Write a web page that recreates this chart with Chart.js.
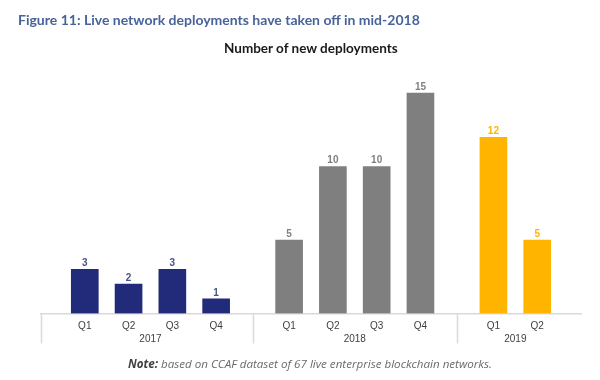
<!DOCTYPE html>
<html><head><meta charset="utf-8">
<script src="https://cdn.jsdelivr.net/npm/chart.js@4.4.1/dist/chart.umd.min.js"></script>
<style>
html,body{margin:0;padding:0;background:#fff;}
#wrap{position:relative;width:600px;height:380px;overflow:hidden;background:#fff;}
#c{position:absolute;left:0;top:0;}
.t{position:absolute;white-space:nowrap;line-height:1;}
#title{left:18px;top:11px;font:700 14px Lato, sans-serif;color:#48639a;}
#sub{left:224px;top:40px;font:700 13.5px Lato, sans-serif;color:#1a1a1a;}
#note{left:128px;top:356px;font:italic 400 11.6px "Open Sans", sans-serif;color:#6b6b6b;}
#note b{color:#404040;font-weight:700;}
</style></head>
<body>
<div id="wrap">
<canvas id="c" width="600" height="380"></canvas>
<div class="t" id="title">Figure 11: Live network deployments have taken off in mid-2018</div>
<div class="t" id="sub">Number of new deployments</div>
<div class="t" id="note"><b>Note:</b> based on CCAF dataset of 67 live enterprise blockchain networks.</div>
</div>
<script>
const years = ['2017', '2018', '2019'];
const quarters = ['Q1', 'Q2', 'Q3', 'Q4', 'Q1', 'Q2', 'Q3', 'Q4', 'Q1', 'Q2'];
const yearIndex = [0, 0, 0, 0, 1, 1, 1, 1, 2, 2];
const deployments = [3, 2, 3, 1, 5, 10, 10, 15, 12, 5];
const barColors = ['#222a7a', '#7f7f7f', '#ffb400'];
const labelColors = ['#46557f', '#7f7f7f', '#ffb400'];

const GROUP_GAP = 2 / 3;
const xPos = quarters.map((q, i) => i + yearIndex[i] * GROUP_GAP);
const X_MIN = xPos[0] - 1;
const X_MAX = xPos[xPos.length - 1] + 1;

function groupMembers(g) { return xPos.filter((p, i) => yearIndex[i] === g); }
const yearCenters = years.map((y, g) => { const m = groupMembers(g); return m.reduce((a, b) => a + b, 0) / m.length; });
const separators = [X_MIN];
for (let g = 1; g < years.length; g++) {
  const prev = groupMembers(g - 1), next = groupMembers(g);
  separators.push((prev[prev.length - 1] + next[0]) / 2);
}

const axisColor = '#d9d9d9';

const valueLabels = {
  id: 'valueLabels',
  afterDatasetsDraw(chart) {
    const ctx = chart.ctx;
    const meta = chart.getDatasetMeta(0);
    ctx.save();
    ctx.font = 'bold 10px "Liberation Sans", Arial, sans-serif';
    ctx.textAlign = 'center';
    ctx.textBaseline = 'bottom';
    meta.data.forEach((bar, i) => {
      ctx.fillStyle = labelColors[yearIndex[i]];
      ctx.fillText(String(deployments[i]), bar.x, bar.y - 1);
    });
    ctx.restore();
  }
};

const groupFrame = {
  id: 'groupFrame',
  afterDraw(chart) {
    const ctx = chart.ctx, xs = chart.scales.x, b = chart.chartArea.bottom;
    ctx.save();
    ctx.strokeStyle = axisColor;
    ctx.lineWidth = 1.5;
    separators.forEach(s => {
      const px = Math.round(xs.getPixelForValue(s)) + 0.5;
      ctx.beginPath();
      ctx.moveTo(px, b);
      ctx.lineTo(px, b + 30);
      ctx.stroke();
    });
    ctx.restore();
  }
};

new Chart(document.getElementById('c'), {
  type: 'bar',
  data: {
    datasets: [{
      data: deployments.map((v, i) => ({ x: xPos[i], y: v })),
      backgroundColor: deployments.map((v, i) => barColors[yearIndex[i]]),
      barThickness: 27,
      borderWidth: 0
    }]
  },
  options: {
    responsive: false,
    devicePixelRatio: 1,
    animation: false,
    layout: { padding: { left: 41, right: 19, top: 78.5, bottom: 0 } },
    plugins: { legend: { display: false }, tooltip: { enabled: false }, title: { display: false } },
    scales: {
      x: {
        type: 'linear',
        offset: false,
        min: X_MIN,
        max: X_MAX,
        grid: { display: false, drawTicks: false, offset: false },
        border: { display: true, color: axisColor, width: 1.5 },
        afterBuildTicks(scale) {
          const t = xPos.map((p, i) => ({ value: p, lbl: quarters[i] }));
          yearCenters.forEach((c, g) => t.push({ value: c, lbl: ['', years[g]] }));
          scale.ticks = t;
        },
        afterFit(scale) { scale.height = 66.5; },
        ticks: {
          autoSkip: false,
          maxRotation: 0,
          padding: 6,
          color: '#404040',
          font: { family: '"Liberation Sans", Arial, sans-serif', size: 10, lineHeight: 1.3 },
          callback: (value, index, ticks) => ticks[index].lbl
        }
      },
      y: { display: false, min: 0, max: 16 }
    }
  },
  plugins: [valueLabels, groupFrame]
});
</script>
</body></html>
